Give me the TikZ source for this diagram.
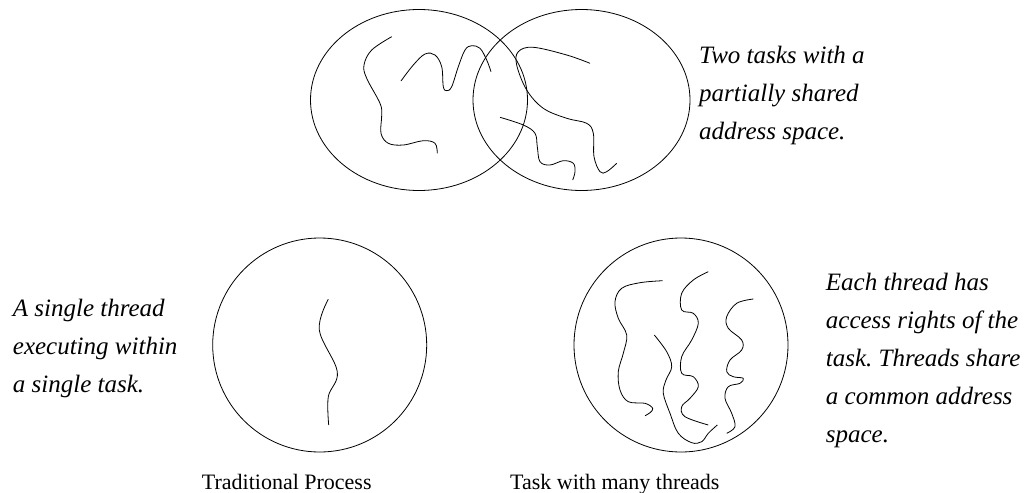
\documentclass[tikz,border=0pt]{standalone}
\usepackage{fontspec}
\setmainfont{Liberation Serif}
\frenchspacing
\begin{document}
\begin{tikzpicture}[x=1pt,y=-1pt,
  outline/.style={line width=0.8pt},
  thread/.style={line width=0.8pt, smooth, tension=0.6},
  note/.style={font=\itshape\fontsize{25}{38}\selectfont, align=left, anchor=base west, inner sep=0pt},
  caption/.style={font=\fontsize{22}{26}\selectfont, anchor=base west, inner sep=0pt}]
\useasboundingbox (0,0) rectangle (1029,493);
% top ellipses
\draw[outline] (419,100) ellipse [x radius=108.5, y radius=90.5];
\draw[outline] (581.5,100) ellipse [x radius=108.5, y radius=90.5];
\draw[thread] plot coordinates {(391.7,36.7) (371.7,50) (364,65) (366.7,78.3) (380,103.3) (381.7,115) (381,133.3) (388.3,143.3) (403.3,145) (423.3,140.7) (435,143.3) (437.3,153.3)};
\draw[thread] plot coordinates {(401,81) (413.3,65) (425,54) (435,55) (441.7,66.7) (443.3,86.7) (446.7,90.7) (451.7,86.7) (458.3,66.7) (465,50) (471.7,45.7) (480,48.3) (486.7,60) (491,71.7)};
\draw[thread] plot coordinates {(590,63.3) (566.7,55) (533.3,47.3) (518.3,51.7) (516.7,65) (526.7,90) (543.3,108.3) (566.7,118.3) (586.7,123.3) (593.3,133.3) (594,156.7) (600,171.7) (606.7,171.7) (616.7,163.3)};
\draw[thread] plot coordinates {(500,117.3) (523.3,125) (535,133.3) (537.3,146.7) (540,161.7) (550,165) (563.3,160.7) (573.3,163.3) (575,171.7) (572.7,180)};
% bottom left circle
\draw[outline] (319.7,345) circle [radius=107];
\draw[thread] plot coordinates {(328.3,299.3) (319.3,330) (337.3,371.7) (328.3,396.7) (328.7,425)};
% bottom right circle
\draw[outline] (681,345) circle [radius=107];
\draw[thread] plot coordinates {(662.7,280.7) (640,282.7) (621.7,288.3) (615,301.7) (618.3,318.3) (626.7,335) (623.3,353.3) (618.3,371.7) (620,390) (628.3,401.7) (645,403.3) (652.7,408.3) (650,412.7) (645,415.7)};
\draw[thread] plot coordinates {(654.3,335) (666.7,351.7) (671.7,366.7) (666,380) (663.3,393.3) (670,413.3) (678.3,433.3) (691.7,442.7) (701.7,441.7) (708.3,433.3) (717.3,425)};
\draw[thread] plot coordinates {(708.3,271.7) (693.3,280) (681.7,293.3) (681.7,310) (693.3,313.3) (698.3,323.3) (691.7,340) (681.7,356.7) (681.7,373.3) (693.3,376.7) (698.3,386.7) (690,398.3) (681.7,406.7) (685,416.7) (708.3,425)};
\draw[thread] plot coordinates {(753.3,299) (736.7,303.3) (726.7,316.7) (728.3,328.3) (741.7,340) (741.7,350) (730,360) (726.7,371.7) (733.3,376.7) (743.3,378.3) (740,383.3) (728.3,386.7) (725,398.3) (731.7,413.3) (735,426.7) (726.7,433.3)};
% texts (anchor = baseline of last line)
\node[note] (t1) at (699,139.5) {Two tasks with a\\partially shared\\address space.};
\node[note] (t2) at (12.7,392) {A single thread\\executing within\\a single task.};
\node[note] (t3) at (825.7,442) {Each thread has\\access rights of the\\task. Threads share\\a common address\\space.};
\node[caption] (c1) at (201.7,489) {Traditional Process};
\node[caption] (c2) at (510,489) {Task with many threads};
\end{tikzpicture}
\end{document}
